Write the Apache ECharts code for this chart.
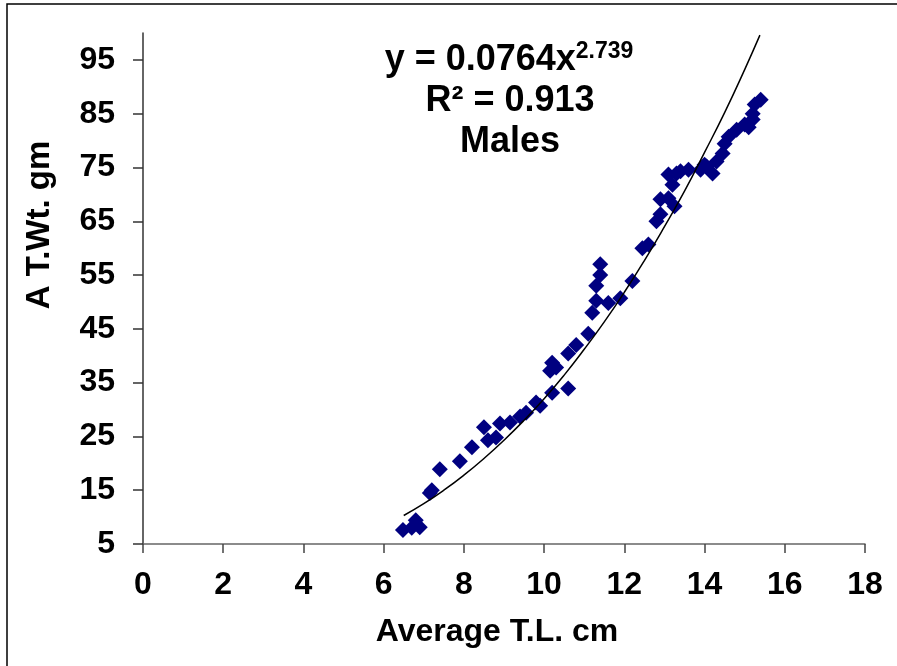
<!DOCTYPE html>
<html>
<head>
<meta charset="utf-8">
<script src="https://cdn.jsdelivr.net/npm/echarts@6/dist/echarts.min.js"></script>
<style>
html, body { margin: 0; padding: 0; background: #fff; }
#chart { width: 897px; height: 666px; }
</style>
</head>
<body>
<div id="chart"></div>
<script>
// observed points (Average T.L. cm, A T.Wt. gm)
var tl = [6.48, 6.7, 6.8, 6.9, 7.15, 7.2, 7.4, 7.9, 8.2, 8.5, 8.6, 8.8, 8.9, 9.15, 9.4, 9.55, 9.8, 9.9,
  10.2, 10.6, 10.15, 10.2, 10.3, 10.6, 10.8, 11.1, 11.2, 11.3, 11.3, 11.4, 11.4, 11.6, 11.9, 12.2,
  12.45, 12.6, 12.8, 12.9, 12.9, 13.1, 13.25, 13.2, 13.1, 13.3, 13.4, 13.6, 13.9, 14.0, 14.05, 14.2,
  14.3, 14.45, 14.5, 14.6, 14.8, 15.0, 15.1, 15.2, 15.2, 15.25, 15.4];
var wt = [7.6, 8.0, 9.4, 8.1, 14.5, 15.0, 18.9, 20.4, 23.0, 26.7, 24.3, 24.8, 27.4, 27.6, 28.7, 29.4, 31.3, 30.7,
  33.1, 33.9, 37.2, 38.7, 37.8, 40.4, 42.0, 44.1, 48.0, 50.2, 53.0, 55.0, 57.0, 49.8, 50.7, 53.9,
  60.0, 60.7, 65.0, 66.3, 69.1, 69.3, 67.8, 71.8, 73.7, 73.9, 74.3, 74.6, 74.6, 75.5, 75.2, 73.9,
  76.1, 77.6, 79.4, 80.7, 82.0, 83.0, 82.5, 83.9, 85.0, 86.7, 87.6];

// trend line as drawn in the picture
var trendX = [6.5, 7, 7.5, 8, 8.5, 9, 9.5, 10, 10.5, 11, 11.5, 12, 12.5, 13, 13.5, 14, 14.5, 15, 15.38];
var trendY = [10.3, 12.5, 15.0, 17.8, 20.9, 24.3, 28.0, 32.0, 36.4, 41.2, 46.3, 51.8, 57.7, 64.0, 70.6, 77.8, 85.2, 93.2, 99.6];

var yTicks = [5, 15, 25, 35, 45, 55, 65, 75, 85, 95];

var FONT = '"Liberation Sans", Arial, sans-serif';

var pts = [];
for (var i = 0; i < tl.length; i++) {
  pts.push([tl[i], wt[i]]);
}
var trend = [];
for (var j = 0; j < trendX.length; j++) {
  trend.push([trendX[j], trendY[j]]);
}

var chart = echarts.init(document.getElementById('chart'));
chart.setOption({
  backgroundColor: '#fff',
  animation: false,
  grid: { left: 143, right: 32, top: 33, bottom: 122 },
  xAxis: {
    type: 'value',
    min: 0, max: 18, interval: 2,
    splitLine: { show: false },
    axisLine: { lineStyle: { color: '#666', width: 1.5 } },
    axisTick: { length: 9, lineStyle: { color: '#444', width: 1.5 } },
    axisLabel: { margin: 25, fontFamily: FONT, fontWeight: 'bold', fontSize: 32, color: '#000' }
  },
  yAxis: {
    type: 'value',
    min: 5, max: 100,
    splitLine: { show: false },
    axisLine: { show: true, lineStyle: { color: '#333', width: 1.5 } },
    axisTick: { show: true, length: 10, customValues: yTicks, lineStyle: { color: '#333', width: 1.5 } },
    axisLabel: { margin: 28, customValues: yTicks, fontFamily: FONT, fontWeight: 'bold', fontSize: 32, color: '#000' }
  },
  series: [
    {
      type: 'scatter',
      data: pts,
      symbol: 'diamond',
      symbolSize: [16, 16],
      itemStyle: { color: '#000080', opacity: 1 }
    },
    {
      type: 'line',
      data: trend,
      smooth: true,
      symbol: 'none',
      lineStyle: { color: '#000', width: 1.5 }
    }
  ],
  graphic: [
    { type: 'rect', shape: { x: 7, y: 4, width: 900, height: 700 }, style: { fill: null, stroke: '#000', lineWidth: 1.5 }, silent: true },
    {
      type: 'text', x: 509, y: 60,
      style: {
        text: '{a|y = 0.0764x}{b|2.739}',
        align: 'center', verticalAlign: 'middle',
        rich: {
          a: { fontFamily: FONT, fontWeight: 'bold', fontSize: 36, fill: '#000' },
          b: { fontFamily: FONT, fontWeight: 'bold', fontSize: 23, fill: '#000', padding: [0, 0, 17, 0] }
        }
      }
    },
    { type: 'text', x: 510, y: 101, style: { text: 'R² = 0.913', align: 'center', verticalAlign: 'middle', fontFamily: FONT, fontWeight: 'bold', fontSize: 36, fill: '#000' } },
    { type: 'text', x: 510, y: 142, style: { text: 'Males', align: 'center', verticalAlign: 'middle', fontFamily: FONT, fontWeight: 'bold', fontSize: 36, fill: '#000' } },
    { type: 'text', x: 40, y: 225, rotation: Math.PI / 2, style: { text: 'A T.Wt. gm', align: 'center', verticalAlign: 'middle', fontFamily: FONT, fontWeight: 'bold', fontSize: 33, fill: '#000' } },
    { type: 'text', x: 497, y: 632, style: { text: 'Average T.L. cm', align: 'center', verticalAlign: 'middle', fontFamily: FONT, fontWeight: 'bold', fontSize: 32, fill: '#000' } }
  ]
});
</script>
</body>
</html>
